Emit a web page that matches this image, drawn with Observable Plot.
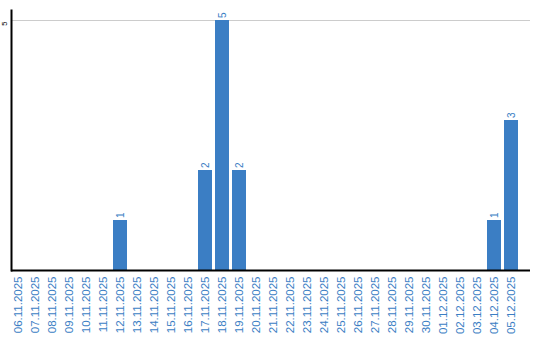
<!DOCTYPE html>
<html>
<head>
<meta charset="utf-8">
<script src="https://cdn.jsdelivr.net/npm/d3@7"></script>
<script src="https://cdn.jsdelivr.net/npm/@observablehq/plot@0.6"></script>
<style>
  body { margin: 0; background: #fff; }
  svg { display: block; }
</style>
</head>
<body>
<div id="chart"></div>
<script>
const dates = ["06.11.2025","07.11.2025","08.11.2025","09.11.2025","10.11.2025","11.11.2025","12.11.2025","13.11.2025","14.11.2025","15.11.2025","16.11.2025","17.11.2025","18.11.2025","19.11.2025","20.11.2025","21.11.2025","22.11.2025","23.11.2025","24.11.2025","25.11.2025","26.11.2025","27.11.2025","28.11.2025","29.11.2025","30.11.2025","01.12.2025","02.12.2025","03.12.2025","04.12.2025","05.12.2025"];
const counts = [0,0,0,0,0,0,1,0,0,0,0,2,5,2,0,0,0,0,0,0,0,0,0,0,0,0,0,0,1,3];
const yTicks = [5];

const data = dates.map((d, i) => ({date: d, value: counts[i]}));
const blue = "#3b7ec4";
const font = "Liberation Sans, Arial, sans-serif";

const chart = Plot.plot({
  width: 540,
  height: 340,
  marginLeft: 11,
  marginRight: 10,
  marginTop: 10,
  marginBottom: 70,
  style: {fontFamily: font, background: "#fff"},
  x: {domain: dates, range: [9.5, 519.5], paddingInner: 0.18, paddingOuter: 0, axis: null},
  y: {domain: [0, 5.2], range: [270, 10], axis: null},
  marks: [
    Plot.ruleY(yTicks, {stroke: "#cccccc", strokeWidth: 1}),
    Plot.barY(data, {x: "date", y: "value", fill: blue}),
    Plot.text(data.filter(d => d.value > 0), {
      x: "date", y: "value", text: d => String(d.value),
      rotate: -90, textAnchor: "start", dy: -2.5,
      fill: blue, fontSize: 10, fontFamily: font
    }),
    Plot.ruleY([0], {stroke: "#000", strokeWidth: 2}),
    Plot.frame({anchor: "left", stroke: "#000", strokeWidth: 2}),
    Plot.axisX({
      tickSize: 0, tickPadding: 6, tickRotate: -90,
      fill: blue, fontSize: 11.5, fontFamily: font, label: null
    }),
    Plot.text(yTicks, {
      y: d => d, text: d => String(d), frameAnchor: "left",
      rotate: -90, dx: -7, dy: 1, textAnchor: "end",
      fill: "#000", fontSize: 7.5, fontFamily: font
    })
  ]
});
document.getElementById("chart").appendChild(chart);
</script>
</body>
</html>
